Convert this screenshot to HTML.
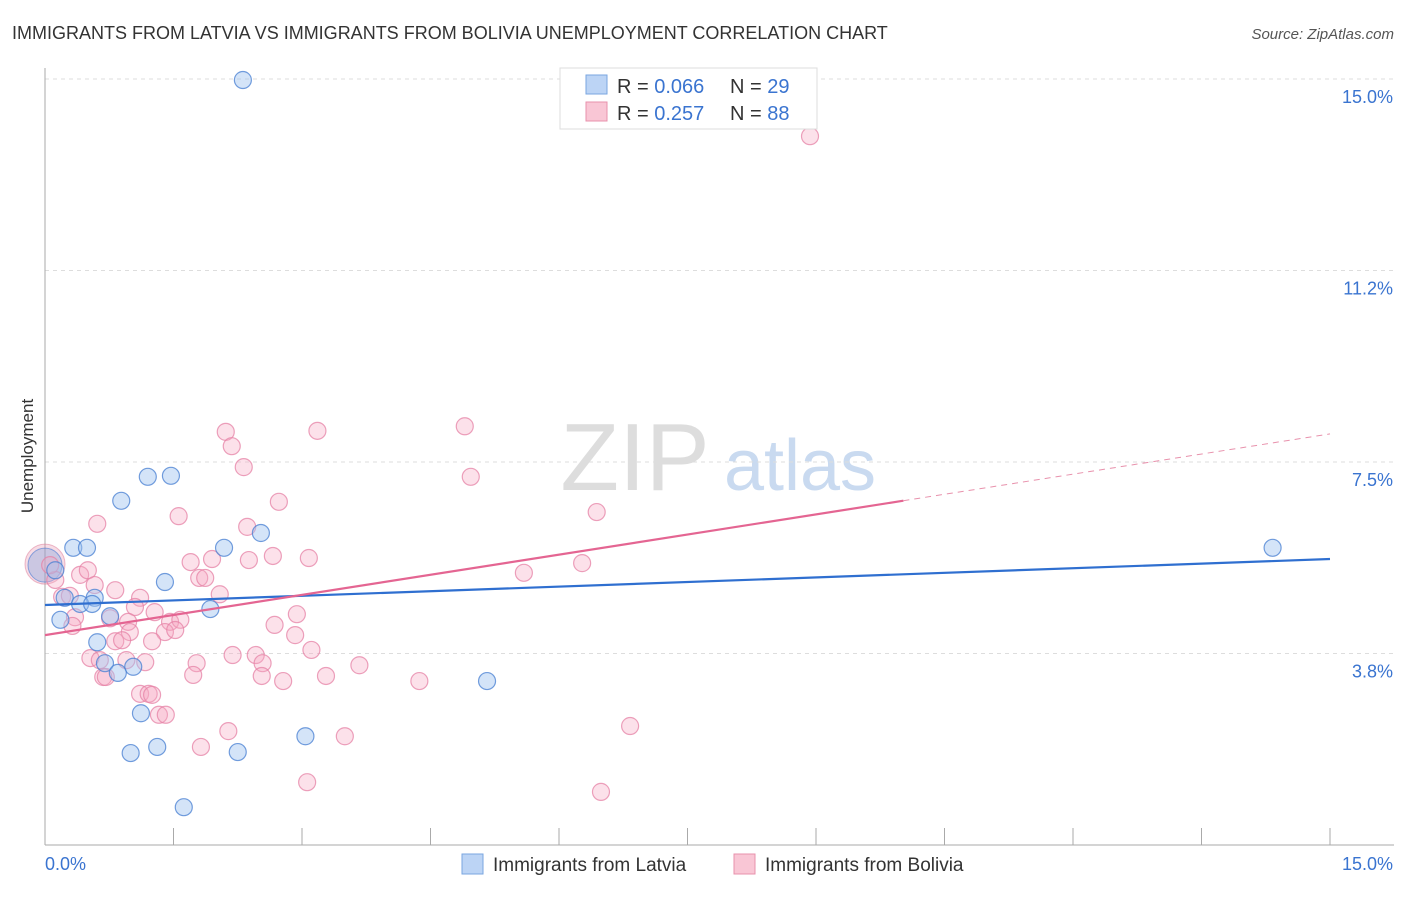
<!DOCTYPE html>
<html><head><meta charset="utf-8">
<style>
body{margin:0;background:#fff;font-family:"Liberation Sans",sans-serif;}
svg text{font-family:"Liberation Sans",sans-serif;}
</style></head>
<body>
<svg id="chart" width="1406" height="892" xmlns="http://www.w3.org/2000/svg">
<text x="12" y="39" font-size="18" fill="#333">IMMIGRANTS FROM LATVIA VS IMMIGRANTS FROM BOLIVIA UNEMPLOYMENT CORRELATION CHART</text>
<text x="1394" y="39" font-size="15" fill="#555" text-anchor="end" font-style="italic">Source: ZipAtlas.com</text>
<text transform="translate(33,456) rotate(-90)" font-size="17" fill="#333" text-anchor="middle">Unemployment</text>
<g>
<text x="635" y="490" font-size="96" fill="#ddd" text-anchor="middle" font-family="Liberation Serif,serif">ZIP</text>
<text x="800" y="490" font-size="72" fill="#c9daf0" text-anchor="middle">atlas</text>
</g>
<g id="grid"></g>
<g id="axes"></g>
<g id="points"></g>
<g id="trends"></g>
<g>
<rect x="560" y="68" width="257" height="61" fill="#fff" stroke="#ddd"/>
<rect x="586" y="75" width="21" height="19" fill="#bcd4f5" stroke="#7aa6e0"/>
<rect x="586" y="102" width="21" height="19" fill="#f9c6d5" stroke="#e891ac"/>
<text x="617" y="93" font-size="20" fill="#333">R = <tspan fill="#3a74d0">0.066</tspan></text>
<text x="730" y="93" font-size="20" fill="#333">N = <tspan fill="#3a74d0">29</tspan></text>
<text x="617" y="120" font-size="20" fill="#333">R = <tspan fill="#3a74d0"> 0.257</tspan></text>
<text x="730" y="120" font-size="20" fill="#333">N = <tspan fill="#3a74d0">88</tspan></text>
</g>
<g>
<rect x="462" y="854" width="21" height="20" fill="#bcd4f5" stroke="#7aa6e0"/>
<text x="493" y="871" font-size="19" fill="#333">Immigrants from Latvia</text>
<rect x="734" y="854" width="21" height="20" fill="#f9c6d5" stroke="#e891ac"/>
<text x="765" y="871" font-size="19" fill="#333">Immigrants from Bolivia</text>
</g>
</svg>
<script>
const yTicks=[3.75,7.5,11.25,15];
const yTickLabels=["3.8%","7.5%","11.2%","15.0%"];
const xTickLabels=["0.0%","15.0%"];
const latviaX=[2.31,0.89,1.20,1.47,0.33,0.49,2.09,2.52,1.40,0.12,0.58,0.23,0.41,0.55,0.76,0.18,1.93,0.61,0.70,1.03,0.85,5.16,1.12,1.31,1.00,2.25,3.04,1.62,14.33];
const latviaY=[14.98,6.74,7.21,7.23,5.82,5.82,5.82,6.11,5.15,5.38,4.84,4.84,4.72,4.72,4.48,4.41,4.62,3.97,3.56,3.49,3.37,3.21,2.58,1.92,1.80,1.82,2.13,0.74,5.82];
const boliviaX=[8.93,4.90,2.11,3.18,2.18,2.32,4.97,2.73,6.44,0.61,1.56,2.36,1.70,1.95,2.38,2.66,3.08,6.27,5.59,1.80,1.87,0.41,0.50,0.12,0.06,0.58,0.82,0.20,0.29,1.11,2.04,1.05,1.28,2.94,0.76,0.35,0.32,0.97,1.46,1.58,2.68,0.99,1.40,1.52,2.92,0.82,0.90,1.25,3.11,2.19,2.46,0.53,1.17,1.77,2.54,3.67,0.64,0.95,0.68,0.71,1.73,2.53,2.78,3.28,4.37,1.11,1.21,1.25,1.33,1.41,2.14,3.50,6.83,1.82,3.06,6.49];
const boliviaY=[13.88,8.20,8.09,8.11,7.81,7.40,7.21,6.72,6.52,6.29,6.44,6.23,5.54,5.60,5.58,5.66,5.62,5.52,5.33,5.23,5.23,5.29,5.38,5.19,5.48,5.09,4.99,4.86,4.88,4.84,4.91,4.66,4.56,4.52,4.44,4.46,4.29,4.37,4.37,4.41,4.31,4.17,4.17,4.21,4.11,3.99,4.01,3.99,3.82,3.72,3.72,3.66,3.58,3.56,3.56,3.52,3.62,3.62,3.29,3.29,3.33,3.31,3.21,3.31,3.21,2.96,2.96,2.94,2.55,2.55,2.23,2.13,2.33,1.92,1.23,1.04];
const latviaTrend=[4.70,5.60];
const boliviaTrend=[4.11,8.05];
const boliviaSolidEnd=10.02;

const NS="http://www.w3.org/2000/svg";
const X0=45,X1=1330,Y0=845,Y1=79;
const xs=v=>X0+v/15*(X1-X0);
const ys=v=>Y0-v/15*(Y0-Y1);
function mk(tag,attrs,parent){const e=document.createElementNS(NS,tag);for(const k in attrs)e.setAttribute(k,attrs[k]);document.getElementById(parent).appendChild(e);return e;}

yTicks.forEach((t,i)=>{
  const g=mk('line',{x1:X0,x2:1394,y1:ys(t),y2:ys(t),stroke:'#ddd','stroke-dasharray':'4,4'},'grid');
  
  
  const l=mk('text',{x:1393,y:ys(t)+24,'font-size':18,fill:'#3a74d0','text-anchor':'end'},'axes');
  l.textContent=yTickLabels[i];
  
  
});
const ya=mk('line',{x1:X0,x2:X0,y1:68,y2:Y0,stroke:'#aaa'},'axes');


const xa=mk('line',{x1:X0,x2:1394,y1:Y0,y2:Y0,stroke:'#aaa'},'axes');


for(let i=1;i<=10;i++){
  const tk=mk('line',{x1:xs(i*1.5),x2:xs(i*1.5),y1:828,y2:Y0,stroke:'#aaa'},'axes');
  
  
}
[[xTickLabels[0],X0,'start'],[xTickLabels[1],1393,'end']].forEach(([s,x,a])=>{
  const l=mk('text',{x:x,y:870,'font-size':18,fill:'#3a74d0','text-anchor':a},'axes');
  l.textContent=s;
  
  
});
// big points near origin
const bb=mk('circle',{cx:xs(0),cy:ys(5.5),r:20,fill:'rgba(230,140,170,0.3)',stroke:'rgba(220,120,150,0.5)'},'points');


const bl=mk('circle',{cx:xs(0),cy:ys(5.48),r:17,fill:'rgba(120,160,220,0.35)',stroke:'rgba(70,120,210,0.6)'},'points');


boliviaX.forEach((x,i)=>{
  const c=mk('circle',{cx:xs(x),cy:ys(boliviaY[i]),r:8.5,fill:'rgba(245,170,195,0.35)',stroke:'rgba(230,130,165,0.75)','stroke-width':1.2},'points');
  
  
});
latviaX.forEach((x,i)=>{
  const c=mk('circle',{cx:xs(x),cy:ys(latviaY[i]),r:8.5,fill:'rgba(160,195,240,0.45)',stroke:'rgba(70,125,210,0.75)','stroke-width':1.2},'points');
  
  
});
const lt=mk('line',{x1:xs(0),y1:ys(latviaTrend[0]),x2:xs(15),y2:ys(latviaTrend[1]),stroke:'#2f6fd0','stroke-width':2.2},'trends');


const bAt=v=>boliviaTrend[0]+(boliviaTrend[1]-boliviaTrend[0])*v/15;
const bt=mk('line',{x1:xs(0),y1:ys(bAt(0)),x2:xs(boliviaSolidEnd),y2:ys(bAt(boliviaSolidEnd)),stroke:'#e46592','stroke-width':2.2},'trends');


const bd=mk('line',{x1:xs(boliviaSolidEnd),y1:ys(bAt(boliviaSolidEnd)),x2:xs(15),y2:ys(bAt(15)),stroke:'#e891ac','stroke-width':1,'stroke-dasharray':'6,5'},'trends');


</script>
</body></html>
